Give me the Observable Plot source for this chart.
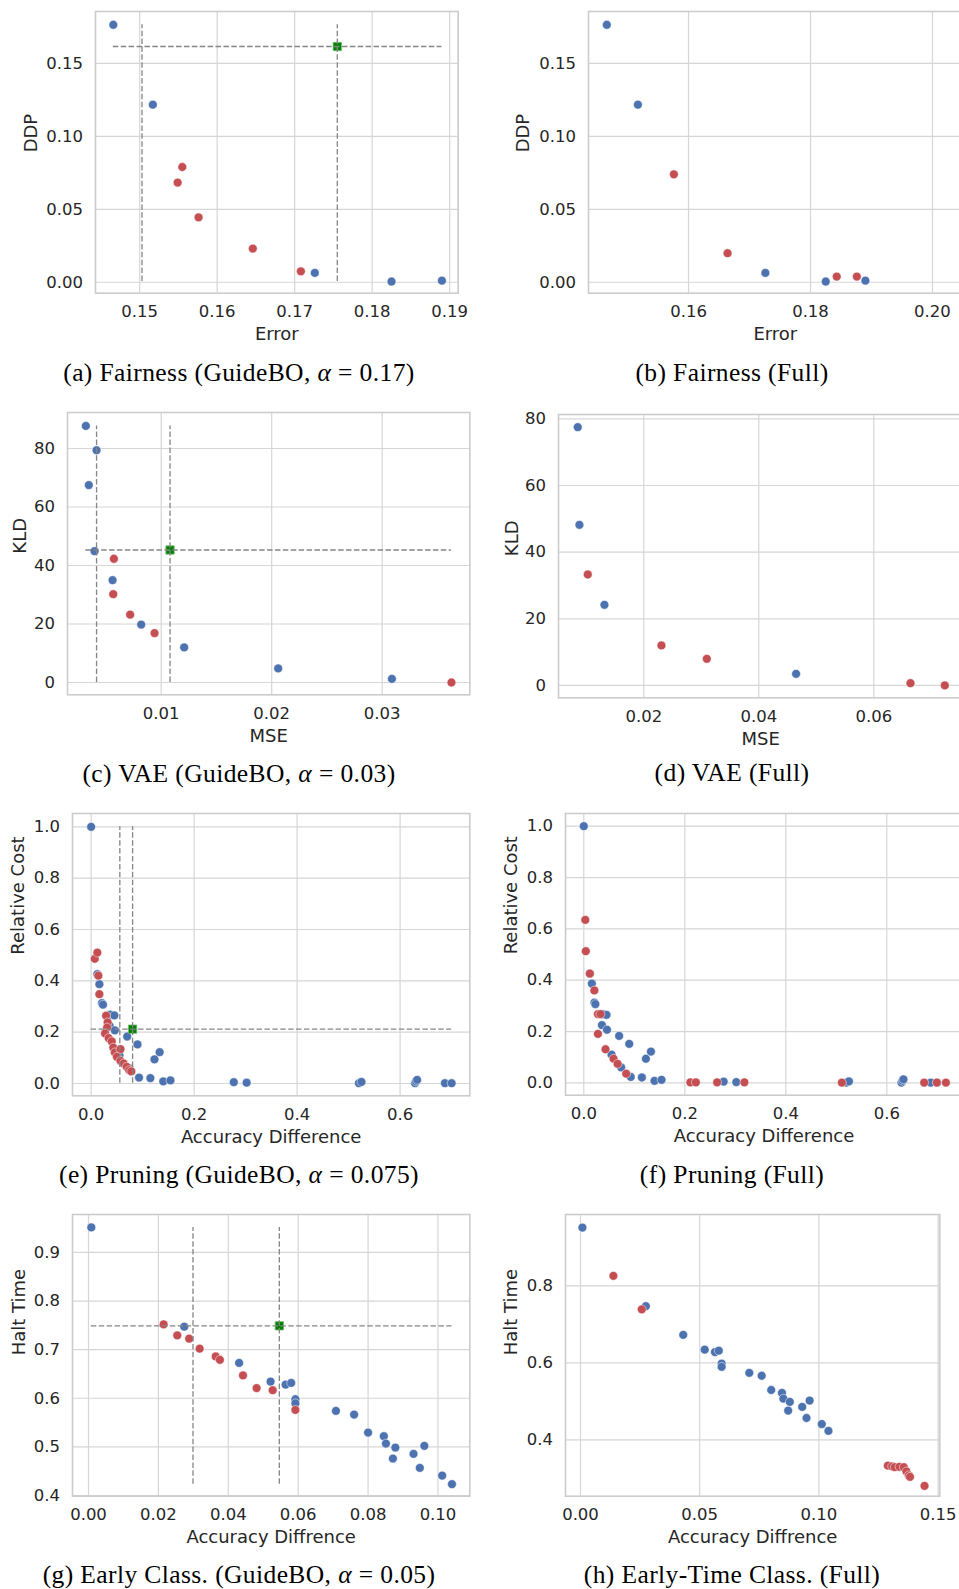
<!DOCTYPE html>
<html>
<head>
<meta charset="utf-8">
<script src="https://cdn.jsdelivr.net/npm/d3@7"></script>
<script src="https://cdn.jsdelivr.net/npm/@observablehq/plot@0.6"></script>
<style>
  html, body { margin: 0; padding: 0; background: #fff; }
  #fig { position: relative; width: 959px; height: 1589px; overflow: hidden; background: #fff; }
  .panel { position: absolute; }
  .panel svg { max-width: none !important; display: block; }
  .cap {
    position: absolute; transform: translateX(-50%); white-space: nowrap;
    font-family: "Liberation Serif", "DejaVu Serif", serif; font-size: 25.5px; line-height: 26px;
    letter-spacing: 0.4px; color: #000;
  }
</style>
</head>
<body>
<div id="fig"></div>
<script>
// ---- Fairness: error vs. DDP -------------------------------------------
const fairBase    = [[0.1466, 0.1765], [0.1517, 0.1217], [0.1726, 0.0064], [0.1825, 0.0005], [0.1890, 0.0011]];
const fairGuideBO = [[0.1555, 0.0790], [0.1549, 0.0683], [0.1576, 0.0445], [0.1646, 0.0231], [0.1708, 0.0075]];
const fairFull    = [[0.1576, 0.0740], [0.1664, 0.0199], [0.1843, 0.0039], [0.1876, 0.0039], [0.2057, 0.0087]];
const fairRef     = [0.1755, 0.1616];
const fairCuts    = [0.1503, 0.1755];

// ---- VAE: MSE vs. KLD ---------------------------------------------------
const vaeGuideBase = [[0.00318, 87.7], [0.00415, 79.4], [0.00345, 67.5], [0.00397, 44.9], [0.0056, 35.0],
                      [0.00819, 19.8], [0.01208, 12.0], [0.02059, 4.8], [0.03088, 1.25]];
const vaeGuideBO   = [[0.00572, 42.3], [0.00566, 30.2], [0.00719, 23.2], [0.0094, 16.9], [0.03627, 0.0]];
const vaeFullBase  = [[0.00852, 77.5], [0.00881, 48.2], [0.01316, 24.2], [0.04649, 3.5]];
const vaeFull      = [[0.01026, 33.3], [0.02307, 12.0], [0.03096, 8.0], [0.06638, 0.7], [0.07235, 0.0]];
const vaeRef       = [0.0108, 45.3];
const vaeCuts      = [0.00415, 0.0108];

// ---- Pruning: accuracy difference vs. relative cost ----------------------
const pruneBase = [[0.000, 1.000], [0.012, 0.426], [0.016, 0.387], [0.021, 0.313], [0.023, 0.307],
                   [0.037, 0.268], [0.045, 0.265], [0.036, 0.225], [0.046, 0.207], [0.070, 0.183],
                   [0.090, 0.152], [0.055, 0.110], [0.074, 0.060], [0.093, 0.023], [0.115, 0.021],
                   [0.123, 0.094], [0.133, 0.122], [0.140, 0.008], [0.154, 0.012], [0.277, 0.005],
                   [0.302, 0.003], [0.520, 0.001], [0.525, 0.006], [0.629, 0.001], [0.631, 0.008],
                   [0.633, 0.014], [0.687, 0.001], [0.700, 0.001]];
const pruneGuideBO = [[0.007, 0.486], [0.012, 0.510], [0.014, 0.420], [0.016, 0.348], [0.029, 0.264],
                      [0.032, 0.238], [0.031, 0.218], [0.027, 0.195], [0.034, 0.177], [0.040, 0.164],
                      [0.043, 0.140], [0.046, 0.121], [0.057, 0.134], [0.050, 0.104], [0.057, 0.088],
                      [0.063, 0.078], [0.069, 0.065], [0.074, 0.052], [0.078, 0.047]];
const pruneFull = [[0.003, 0.635], [0.004, 0.513], [0.012, 0.426], [0.021, 0.360], [0.028, 0.268],
                   [0.033, 0.268], [0.028, 0.191], [0.043, 0.131], [0.059, 0.094], [0.067, 0.074],
                   [0.084, 0.036], [0.211, 0.002], [0.222, 0.002], [0.264, 0.002], [0.318, 0.002],
                   [0.511, 0.001], [0.674, 0.001], [0.699, 0.001], [0.717, 0.001]];
const pruneRef  = [0.0805, 0.2117];
const pruneCuts = [0.0557, 0.0805];

// ---- Early classification: accuracy difference vs. halt time -------------
const earlyBase = [[0.0008, 0.9514], [0.0274, 0.7472], [0.0431, 0.6727], [0.0521, 0.6343], [0.0564, 0.6281],
                   [0.0580, 0.6315], [0.0592, 0.5980], [0.0592, 0.5897], [0.0708, 0.5740], [0.0760, 0.5665],
                   [0.0800, 0.5295], [0.0845, 0.5220], [0.0851, 0.5069], [0.0878, 0.4986], [0.0871, 0.4760],
                   [0.0930, 0.4856], [0.0948, 0.4568], [0.0961, 0.5021], [0.1012, 0.4411], [0.1040, 0.4233]];
const earlyGuideBO = [[0.0215, 0.7520], [0.0254, 0.7294], [0.0288, 0.7225], [0.0318, 0.7020], [0.0364, 0.6860],
                      [0.0376, 0.6792], [0.0442, 0.6470], [0.0481, 0.6210], [0.0527, 0.6166], [0.0592, 0.5760]];
const earlyFull = [[0.0138, 0.826], [0.0257, 0.739], [0.1289, 0.333], [0.1307, 0.331], [0.1318, 0.329],
                   [0.1338, 0.330], [0.1356, 0.329], [0.1367, 0.318], [0.1377, 0.308], [0.1382, 0.304],
                   [0.1443, 0.2805]];
const earlyRef  = [0.0546, 0.749];
const earlyCuts = [0.0299, 0.0546];

// ---- tick values ---------------------------------------------------------
const fairXTicksA  = [0.15, 0.16, 0.17, 0.18, 0.19];
const fairXTicksB  = [0.16, 0.18, 0.20];
const fairYTicks   = [0, 0.05, 0.10, 0.15];
const vaeXTicksC   = [0.01, 0.02, 0.03];
const vaeXTicksD   = [0.02, 0.04, 0.06];
const vaeYTicks    = [0, 20, 40, 60, 80];
const pruneXTicks  = [0, 0.2, 0.4, 0.6];
const pruneYTicks  = [0, 0.2, 0.4, 0.6, 0.8, 1.0];
const earlyXTicksG = [0, 0.02, 0.04, 0.06, 0.08, 0.10];
const earlyXTicksH = [0, 0.05, 0.10, 0.15];
const earlyYTicksG = [0.4, 0.5, 0.6, 0.7, 0.8, 0.9];
const earlyYTicksH = [0.4, 0.6, 0.8];

// ---- styling -------------------------------------------------------------
const BLUE = "#4c72b0", RED = "#c44e52", GREEN = "#008000";
const GRID = "#d6d6d6", SPINE = "#cccccc", TXT = "#262626", DASH = "#858585";
const f2 = d3.format(".2f"), f1 = d3.format(".1f"), f0 = d3.format("d");
const R = 4.4;

const panels = [
  {base: fairBase, pts: fairGuideBO, ref: fairRef, cuts: fairCuts, xLabel: "Error", yLabel: "DDP",
   xTicks: fairXTicksA, yTicks: fairYTicks, xFmt: f2, yFmt: f2,
   box: [95, 457.7, 11, 292.7], xDomain: [0.1443, 0.1911], yDomain: [-0.0075, 0.1856], yOff: 71.7,
   cap: "(a) Fairness (GuideBO, <i>α</i> = 0.17)", cx: 239, cy: 373},
  {base: fairBase, pts: fairFull, xLabel: "Error", yLabel: "DDP",
   xTicks: fairXTicksB, yTicks: fairYTicks, xFmt: f2, yFmt: f2,
   box: [588.3, 962, 11, 292.7], xDomain: [0.1436, 0.20487], yDomain: [-0.0075, 0.1856], yOff: 72.3,
   cap: "(b) Fairness (Full)", cx: 732, cy: 373},
  {base: vaeGuideBase, pts: vaeGuideBO, ref: vaeRef, cuts: vaeCuts, xLabel: "MSE", yLabel: "KLD",
   xTicks: vaeXTicksC, yTicks: vaeYTicks, xFmt: f2, yFmt: f0,
   box: [66.7, 469, 411.7, 694], xDomain: [0.00152, 0.03793], yDomain: [-4.2, 92.3], yOff: 54.4,
   cap: "(c) VAE (GuideBO, <i>α</i> = 0.03)", cx: 239, cy: 774},
  {base: vaeFullBase, pts: vaeFull, xLabel: "MSE", yLabel: "KLD",
   xTicks: vaeXTicksD, yTicks: vaeYTicks, xFmt: f2, yFmt: f0,
   box: [557.7, 962, 414, 697.3], xDomain: [0.00517, 0.07548], yDomain: [-3.7, 81.3], yOff: 53.7,
   cap: "(d) VAE (Full)", cx: 732, cy: 773},
  {base: pruneBase, pts: pruneGuideBO, ref: pruneRef, cuts: pruneCuts, xLabel: "Accuracy Difference", yLabel: "Relative Cost",
   xTicks: pruneXTicks, yTicks: pruneYTicks, xFmt: f1, yFmt: f1,
   box: [71.7, 469, 812.7, 1095], xDomain: [-0.0362, 0.7353], yDomain: [-0.048, 1.052], yOff: 61,
   cap: "(e) Pruning (GuideBO, <i>α</i> = 0.075)", cx: 239, cy: 1175},
  {base: pruneBase, pts: pruneFull, xLabel: "Accuracy Difference", yLabel: "Relative Cost",
   xTicks: pruneXTicks, yTicks: pruneYTicks, xFmt: f1, yFmt: f1,
   box: [565, 962, 813.3, 1095], xDomain: [-0.0362, 0.7499], yDomain: [-0.048, 1.0495], yOff: 61.7,
   cap: "(f) Pruning (Full)", cx: 732, cy: 1175},
  {base: earlyBase, pts: earlyGuideBO, ref: earlyRef, cuts: earlyCuts, xLabel: "Accuracy Diffrence", yLabel: "Halt Time",
   xTicks: earlyXTicksG, yTicks: earlyYTicksG, xFmt: f2, yFmt: f1,
   box: [71.7, 469, 1214, 1495.7], xDomain: [-0.00458, 0.1091], yDomain: [0.3986, 0.978], yOff: 60.7,
   cap: "(g) Early Class. (GuideBO, <i>α</i> = 0.05)", cx: 239, cy: 1575},
  {base: earlyBase, pts: earlyFull, xLabel: "Accuracy Diffrence", yLabel: "Halt Time",
   xTicks: earlyXTicksH, yTicks: earlyYTicksH, xFmt: f2, yFmt: f1,
   box: [565, 939.3, 1214, 1495.7], xDomain: [-0.00629, 0.1507], yDomain: [0.2537, 0.9853], yOff: 61.7,
   cap: "(h) Early-Time Class. (Full)", cx: 732, cy: 1575}
];

const fig = document.getElementById("fig");
const mL = 80, mR = 30, mT = 10, mB = 60;
const px = d => d[0], py = d => d[1];

for (const p of panels) {
  const [fl, fr, ft, fb] = p.box;
  const W = (fr - fl) + mL + mR, H = (fb - ft) + mT + mB;
  const marks = [
    Plot.gridX(p.xTicks, {stroke: GRID, strokeOpacity: 1, strokeWidth: 1.2}),
    Plot.gridY(p.yTicks, {stroke: GRID, strokeOpacity: 1, strokeWidth: 1.2}),
    Plot.frame({stroke: SPINE, strokeWidth: 1.6}),
    Plot.axisX(p.xTicks, {tickSize: 0, tickPadding: 12, tickFormat: p.xFmt, label: null}),
    Plot.axisY(p.yTicks, {tickSize: 0, tickPadding: 12.5, tickFormat: p.yFmt, label: null}),
    Plot.text([p.xLabel], {text: d => d, frameAnchor: "bottom", dy: 34.5, lineAnchor: "top", fontSize: 18, fill: TXT}),
    Plot.text([p.yLabel], {text: d => d, frameAnchor: "left", dx: -p.yOff, rotate: -90, lineAnchor: "top", fontSize: 18, fill: TXT}),
    Plot.dot(p.base, {x: px, y: py, r: R, fill: BLUE, stroke: "white", strokeWidth: 0.5}),
    Plot.dot(p.pts, {x: px, y: py, r: R, fill: RED, stroke: "white", strokeWidth: 0.5})
  ];
  if (p.ref) {
    // guide lines span the extent of the plotted points
    const all = p.base.concat(p.pts);
    const [x0, x1] = d3.extent(all, px);
    const [y0, y1] = d3.extent(all, py);
    marks.push(
      Plot.dot([p.ref], {x: px, y: py, symbol: "square", r: 4.7, fill: GREEN, stroke: "#6dbf6d", strokeWidth: 0.8}),
      Plot.ruleX(p.cuts, {x: d => d, y1: () => y0, y2: () => y1, stroke: DASH, strokeWidth: 1.3, strokeDasharray: "5.5,2.4"}),
      Plot.ruleY([p.ref[1]], {y: d => d, x1: () => x0, x2: () => x1, stroke: DASH, strokeWidth: 1.3, strokeDasharray: "5.5,2.4"})
    );
  }
  const svg = Plot.plot({
    width: W, height: H,
    marginLeft: mL, marginRight: mR, marginTop: mT, marginBottom: mB,
    x: {type: "linear", domain: p.xDomain},
    y: {type: "linear", domain: p.yDomain},
    style: {fontFamily: "'DejaVu Sans', sans-serif", fontSize: "16.5px", color: TXT, background: "transparent", maxWidth: "none"},
    marks
  });
  svg.setAttribute("width", W);
  svg.setAttribute("height", H);
  svg.style.width = W + "px";
  svg.style.height = H + "px";
  const holder = document.createElement("div");
  holder.className = "panel";
  holder.style.left = (fl - mL) + "px";
  holder.style.top = (ft - mT) + "px";
  holder.style.width = W + "px";
  holder.style.height = H + "px";
  holder.appendChild(svg);
  fig.appendChild(holder);

  const cap = document.createElement("div");
  cap.className = "cap";
  cap.innerHTML = p.cap;
  cap.style.left = p.cx + "px";
  cap.style.top = (p.cy - 13) + "px";
  fig.appendChild(cap);
}
</script>
</body>
</html>
